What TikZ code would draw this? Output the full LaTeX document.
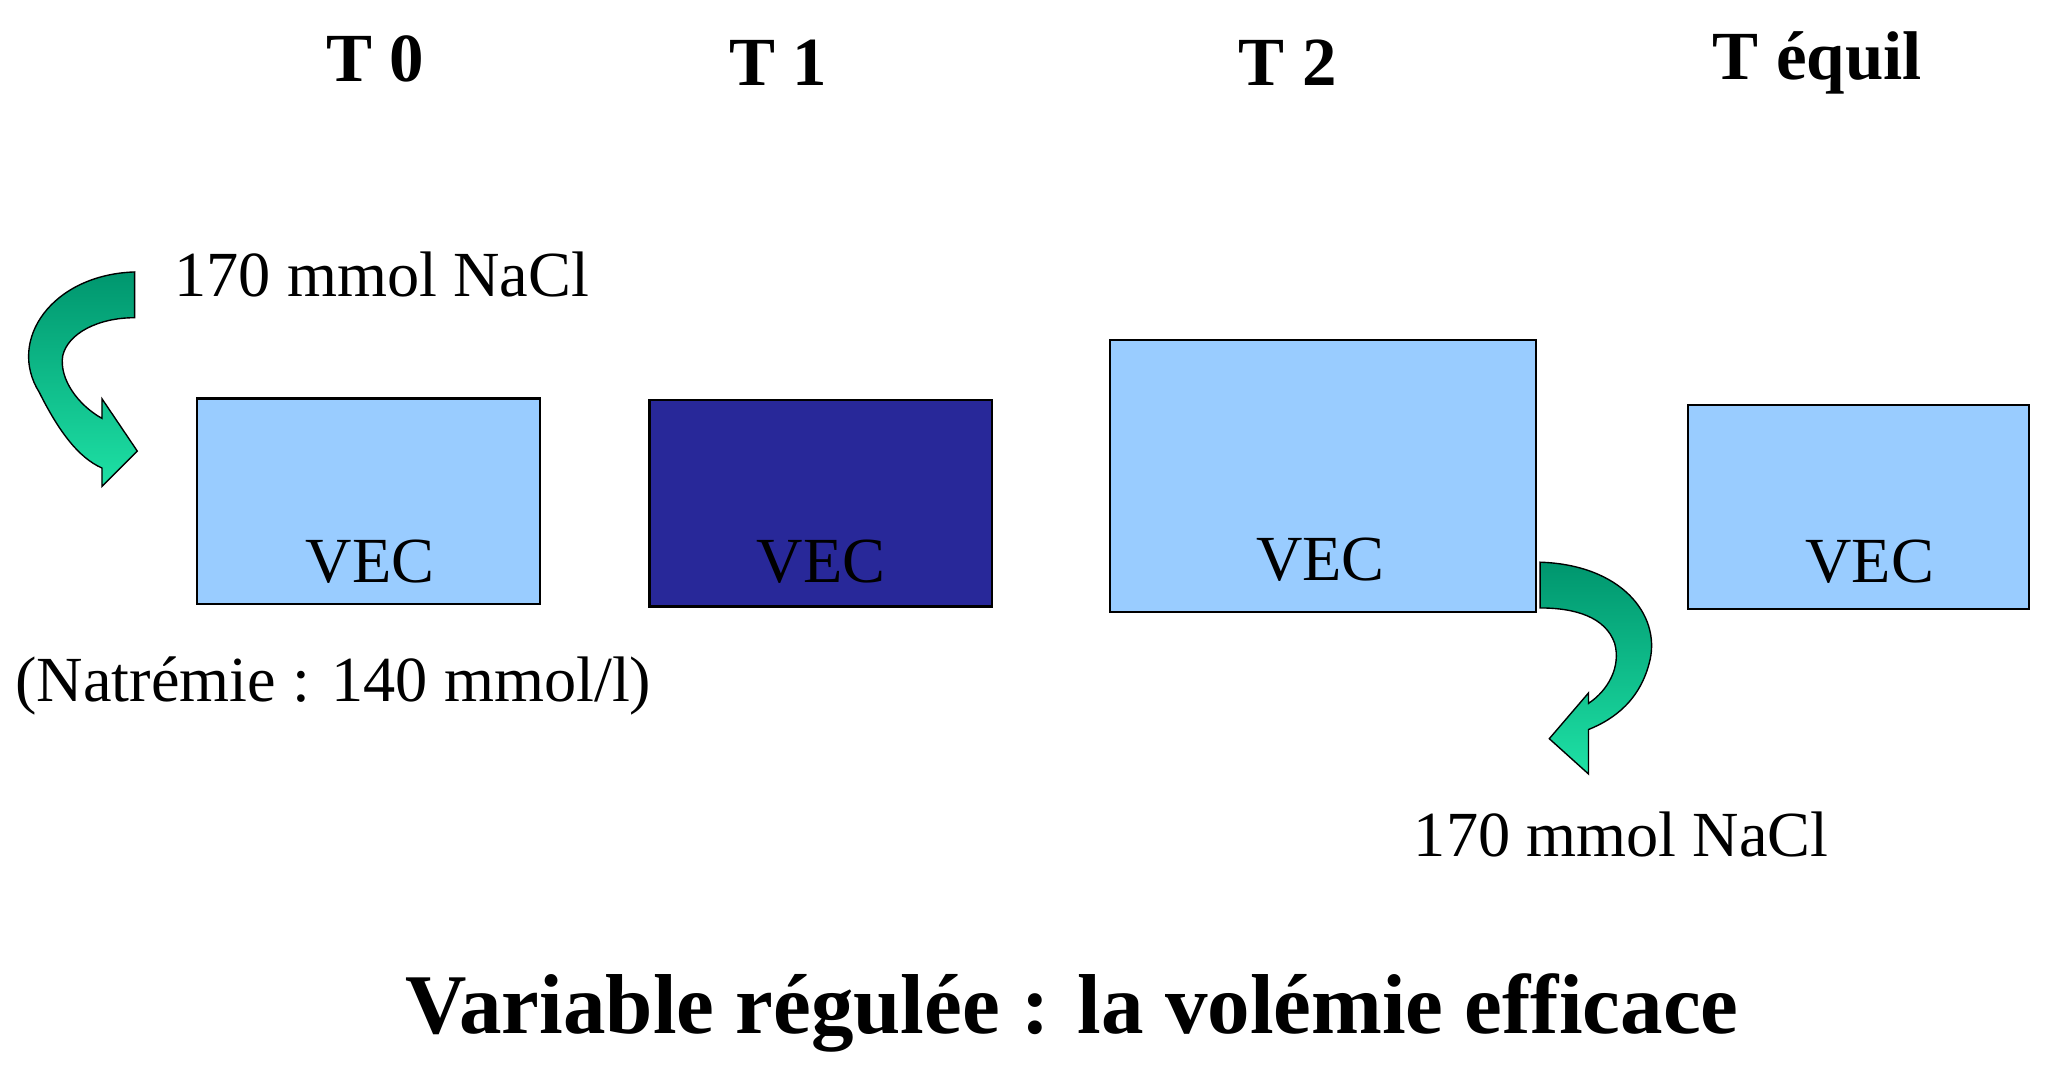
\documentclass[tikz,border=0pt]{standalone}
\usepackage{fontspec}
\setmainfont{Liberation Serif}
\begin{document}
\begin{tikzpicture}[x=0.02cm,y=-0.02cm,
  lbox/.style={draw=black,line width=1pt,fill={rgb,255:red,153;green,204;blue,255},anchor=north west,inner sep=0pt},
  dbox/.style={lbox,fill={rgb,255:red,40;green,40;blue,153}},
  tlab/.style={font=\fontsize{30}{36}\selectfont\bfseries},
  txt/.style={font=\fontsize{28}{34}\selectfont,inner sep=0pt},
  garrow/.style={draw=black,line width=0.6pt,top color={rgb,255:red,0;green,150;blue,110},bottom color={rgb,255:red,30;green,225;blue,165}}]
\useasboundingbox (0,0) rectangle (1568,822);
\node[tlab] (t0) at (287,45) {T 0};
\node[tlab] (t1) at (595,48) {T 1};
\node[tlab] (t2) at (985,48) {T 2};
\node[tlab] (t3) at (1390,48) {T équil};
\node[lbox,minimum width=5.24cm,minimum height=3.14cm] (b1) at (150,304) {};
\node[dbox,minimum width=5.24cm,minimum height=3.16cm] (b2) at (496,305) {};
\node[lbox,minimum width=6.52cm,minimum height=4.16cm] (b3) at (848,259) {};
\node[lbox,minimum width=5.22cm,minimum height=3.12cm] (b4) at (1290,309) {};
\node[txt] (v1) at (283,430) {VEC};
\node[txt] (v2) at (628,430) {VEC};
\node[txt] (v3) at (1010,428) {VEC};
\node[txt] (v4) at (1430,430) {VEC};
\node[txt] (n1) at (292,210) {170 mmol NaCl};
\node[txt] (n2) at (1240,638) {170 mmol NaCl};
\node[txt] (na) at (255,525) {(Natrémie : 140 mmol/l)};
\node[font=\fontsize{37}{44}\selectfont\bfseries,inner sep=0pt] (title) at (820,775) {Variable régulée : la volémie efficace};
\path[garrow] (103,208) .. controls (40,210) and (5,260) .. (30,300) .. controls (45,330) and (60,350) .. (78,358)
  -- (78,372) -- (105,345) -- (78,305) -- (78,320)
  .. controls (60,310) and (45,290) .. (48,272) .. controls (52,255) and (75,243) .. (103,243) -- cycle;
\path[garrow] (1178,430) .. controls (1240,432) and (1270,470) .. (1262,505) .. controls (1255,535) and (1235,550) .. (1215,558)
  -- (1215,592) -- (1185,565) -- (1215,530) -- (1215,538)
  .. controls (1230,528) and (1240,510) .. (1235,492) .. controls (1228,472) and (1205,465) .. (1178,465) -- cycle;
\end{tikzpicture}
\end{document}
